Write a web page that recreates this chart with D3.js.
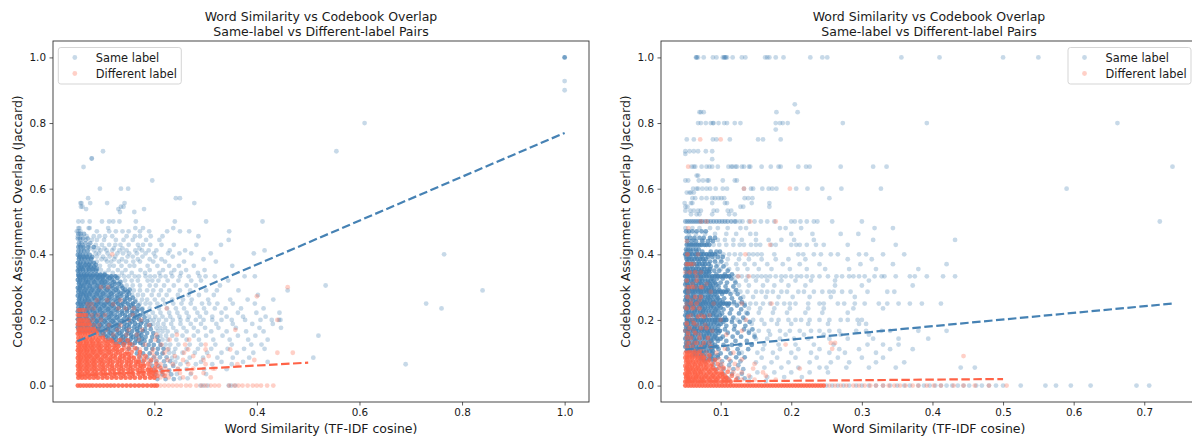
<!DOCTYPE html>
<html><head><meta charset="utf-8">
<script src="https://cdn.jsdelivr.net/npm/d3@7"></script>
<style>html,body{margin:0;background:#fff}svg{display:block}text{font-family:"DejaVu Sans",sans-serif;fill:#1a1a1a}</style>
</head><body><svg id="c" width="1192" height="436"></svg>
<script>
const titleLines=["Word Similarity vs Codebook Overlap","Same-label vs Different-label Pairs"];
const xLabel="Word Similarity (TF-IDF cosine)";
const yLabel="Codebook Assignment Overlap (Jaccard)";
const legendLabels=["Same label","Different label"];
const leftXTicks=[0.2,0.4,0.6,0.8,1.0];
const rightXTicks=[0.1,0.2,0.3,0.4,0.5,0.6,0.7];
const yTicks=[0,0.2,0.4,0.6,0.8,1.0];
const leftSameFit=[[0.05,0.135],[1.0,0.77]];
const leftDiffFit=[[0.05,0.03],[0.5,0.07]];
const rightSameFit=[[0.05,0.11],[0.74,0.25]];
const rightDiffFit=[[0.05,0.012],[0.5,0.02]];
// rows: [y*1000, overlapping pairs at each spot, x*1000 ...]
const leftSameCore=[
[410,3,52,57,63,70],[398,3,51,55,60,67,74],[386,4,53,58,64,71,77],[374,4,51,56,62,68,75,82],
[362,4,52,58,63,70,76,83],[350,4,51,55,61,67,73,80,87],[338,5,52,57,63,68,74,81,88,95,103],
[333,5,53,60,66,72,79,86,93,100,108,116,124],[322,4,51,56,61,67,73,80,87,94,101,109,118],
[310,4,53,58,64,70,77,84,91,98,106,114,123,131],[298,4,51,55,61,68,74,81,88,95,103,111,119,128,138],
[286,4,52,58,63,70,76,83,90,97,105,113,121,130,140,148],[274,4,51,56,62,67,73,80,87,94,102,110,118,127,136,146],
[262,4,53,59,65,71,78,85,92,99,107,115,123,132,142,152],[250,5,51,56,62,68,75,82,89,96,104,112,120,129,138,148,158],
[238,4,52,58,64,70,77,84,91,98,106,114,122,131,141,151,161],[226,4,51,55,61,67,74,81,88,95,103,111,119,128,137,147,157,166],
[214,4,53,59,65,72,79,86,93,100,108,116,124,133,143,153,163,172],[202,4,51,56,62,69,76,83,90,97,105,113,121,130,140,150,160,170],
[190,4,52,58,64,71,78,85,92,99,107,115,123,132,142,152,162,174],[178,4,51,57,63,70,77,84,91,98,106,114,122,131,141,151,161,172],
[166,4,53,60,67,74,81,88,95,103,111,119,128,137,147,157,167,178],[154,4,95,103,111,119,127,136,145,155,165,175],
[142,4,110,118,126,135,144,154,164,176],[130,4,125,133,142,152,162,173]];
const leftSameMid=[
[462,2,52,56,63],[448,2,51,55,61,70],[434,2,53,58,66,75],[422,3,52,56,62,71,82],
[392,3,54,62,69,79],[368,3,55,66,73,86],[356,3,54,60,72,80,88],[328,3,55,64,77,90,99,113,128],[316,3,54,66,71,83,97,104,121,134],[304,3,56,62,74,89,101,117,136],
[292,3,54,66,79,92,108,125,143,152],[280,3,57,65,74,88,100,116,134,151],[268,3,55,69,83,96,112,129,147,158],[256,3,54,64,73,91,109,126,143,163],[244,3,58,72,86,102,118,135,155,169],
[232,3,55,69,79,94,110,126,146,168,176],[220,3,57,70,84,99,116,138,158,178],[208,3,54,67,81,96,112,127,147,165,181],[196,3,59,74,88,103,119,137,156,177,186],
[184,3,55,68,82,95,111,128,147,168,184,192],[172,3,90,110,126,145,166,182,193],[160,3,100,115,132,150,171,186,198],[148,3,105,122,139,158,170,183,196,206],
[136,3,120,138,148,169,181,193,208],[124,3,140,157,178,189,199,212],[112,3,150,166,184,196,207,218],[98,3,166,178,191,205,216],[86,2,172,186,199,211,224],[74,2,178,193,204,219,231],[60,2,196,208,221,237],[46,2,200,214,229],[34,2,202,216,233],[20,2,206,222,238]];
const leftSameSparse=[
[1000,4,1000],[928,1,1000],[900,1,1000],[800,1,610],[714,1,555,100],[692,2,78],[666,1,62],[625,1,196],
[600,1,94,149,135],[571,1,71,250,242],[556,1,56,58,75,108,142,278],[545,1,57,60,140,135],[538,1,67,180,130],[529,1,133,161],
[500,1,74,98,112,120,132,164,240,301,411,60,52],[480,1,52,54,72,74,110,163,178,237],[470,1,49,52,56,88,112,125,138,150,172,190,225,250,268,346],
[455,1,51,58,68,82,93,104,118,146,162,172,193,216,286],[444,1,56,66,78,88,102,125,140,158,184,210,345],[429,1,54,60,72,86,98,112,124,134,150,168,178,192,214,238,282,330],
[418,1,63,75,91,103,121,138,171],[412,1,83,95,107,118,132,146,163,176,189,204,230,260,415],[403,1,86,92,109,128,139,151,166,183,199,227,249,272,310,394],[400,1,765],[393,1,88,100,113,124,148,158,177,202,236],[385,1,97,105,122,137,168,191,214,296],
[378,1,88,108,116,131,145,159,172,198,221,258,320],[365,1,94,113,121,136,152,161,187,206,229,248,277,352],[352,1,96,111,129,144,173,191,217,239,262,298],[343,1,104,119,137,156,182,210,233,252,285],
[333,1,131,141,150,162,170,183,192,201,212,222,235,250,267,288,300,318,376,396],[320,1,127,143,156,168,187,196,208,226,247,272,291,344],[305,1,146,158,172,191,203,219,238,263,281,328,534],
[290,1,160,172,186,198,213,229,250,270,301,322,364,460,840],[276,1,157,168,178,195,209,224,246,267,287,316,402],[262,1,163,176,186,201,217,235,256,273,305,348,382,432],
[250,1,172,183,192,206,221,237,253,271,293,307,323,353,396,730],[235,1,177,191,209,225,242,258,279,297,318,339,369,413,760],[222,1,184,197,212,229,245,263,284,301,331,363,399,444],
[210,1,190,202,216,231,249,267,289,313,341,373,417],[200,1,192,199,209,223,236,251,265,281,296,313,331,351,377,407,429,443,446],[188,1,198,207,218,233,251,271,291,321,353,391,431],
[176,1,204,212,221,237,257,277,299,325,359,405,447],[165,1,207,216,226,243,263,285,311,341,379,413],[152,1,212,223,235,255,277,301,333,363,397,520],
[140,1,216,226,243,263,287,315,347,383,421],[125,1,222,231,247,269,291,319,351,389,409],[112,1,228,241,263,285,311,343,375,415],[100,1,229,238,255,279,303,331,361,393],
[85,1,235,245,269,295,323,353,385,510],[72,1,241,263,291,331,373,421],[65,1,251,281,313,351,690],[50,1,246,263,297,341],[35,1,244,271,301],[22,1,250,265],[0,1,290,296,304,345,350,358]];
const leftDiffCore=[
[230,2,52,55,60,64],[215,3,51,54,58,63,67],[200,3,52,56,60,65,70],[186,4,51,55,60,64,69,74],[172,4,52,56,61,66,71,76,82],[158,5,51,55,60,65,70,76,82,88],
[145,5,52,57,62,68,74,80,86,93,100],[132,5,51,56,62,68,74,80,87,94,102,110,118],[120,6,52,58,64,70,76,83,90,97,105,113,122,130],
[108,6,51,57,63,69,75,82,89,96,104,112,120,128,137],[96,6,52,58,64,71,78,85,92,100,108,116,125,134,143,150],[84,6,51,57,63,70,77,84,91,99,107,115,124,133,142,151,160],
[72,6,52,58,65,72,79,86,94,102,110,119,128,137,146,155,164,170],[60,6,51,57,64,71,78,85,93,101,109,118,127,136,145,154,163,173,180],[48,6,52,59,66,73,80,88,96,104,113,122,131,140,149,158,167,177,187,194],
[36,6,51,58,65,72,80,88,96,105,114,123,132,141,150,159,169,179,189,198],[24,6,52,59,66,74,82,90,99,108,117,126,135,144,153,162,172,182,192,200],
[0,6,51,56,62,68,74,80,87,94,101,108,115,122,130,138,146,154,162,170,178,186,194,200,205]];
const leftDiffMid=[
[193,3,54,62,72],[165,3,54,64,73,85],[138,3,55,66,78,90,105,116,132,148],[126,3,55,67,80,92,109,126,140,152],[114,3,54,66,79,93,108,124,141,150,163],[102,3,55,68,81,95,112,129,147,156,172],
[90,3,54,67,74,88,104,120,138,155,170,183],[78,3,55,68,82,96,114,132,150,169,180,194],[66,3,54,69,82,98,114,132,150,168,178,188,204],[54,3,55,68,83,100,118,135,153,172,190,202,212],
[42,3,55,69,84,100,118,136,154,172,192,204,216],[30,3,55,70,86,103,121,139,157,177,195,206,220]];
const leftDiffSparse=[
[400,1,118],[300,1,96,110,460],[272,1,400],[260,1,88,108,134],[248,1,70,78,120],[235,1,72,82,130,144,160,224],[215,1,78,90,104,158],[200,1,80,96,150,174,440],[184,1,82,92,112,134,190],
[170,1,90,106,128,150,176,358],[155,1,100,120,146,166,204,244],[140,1,112,136,170,202,230,268],[125,1,146,158,182,214,260,300],[110,1,158,172,198,226,266,300,348],[100,1,172,196,220,258,440,470],
[90,1,176,200,240,276,306],[78,1,186,204,226,256,296,395],[65,1,192,212,236,266,300,362],[52,1,204,222,246,276,314,318],[38,1,212,226,250,272,296],[25,1,212,228,256,280,310],
[0,1,212,220,228,236,244,252,262,270,282,292,300,310,318,326,346,356,364,372,382,392,400,408,420,432]];
const rightSameCore=[
[500,2,50,53,56,59,62,65,68,71,74,78,82,86,90,94,98,102,106,110,115,120],
[429,4,52,55,58,61,64,67,70,73,77,80,84],[415,3,51,54,57,61,65,69],[400,5,50,53,56,60,64,68,72,76,80,84,88,92],[385,4,52,55,59,63,67,71,75,79],[370,4,51,54,58,62,66,70,74,78,83],
[355,4,50,53,57,61,65,69,73,77,81,85],[345,5,52,56,60,64,68,72,76,80,84],[333,6,50,53,56,60,64,68,72,76,80,84,88,92,96,100,104,108,112],[320,4,51,54,58,62,66,70,74,78,82,86,90],
[308,4,50,53,57,61,65,69,73,77,81,85,89,94],[296,4,52,55,59,63,67,71,75,79,83,87,91],[286,6,50,53,56,60,64,68,72,76,80,84,88,92,96,100,104,108],[272,4,51,54,58,62,66,70,74,78,82,86,90,95],
[260,4,50,53,57,61,65,69,73,77,81,85,89,94,99],[250,6,52,55,59,63,67,71,75,79,83,87,91,95,100,104,108,112],[238,4,50,54,58,62,66,70,74,78,82,86,90,95,100],[226,4,51,55,59,63,67,71,75,79,83,87,92,97],
[214,4,50,53,57,61,65,69,73,77,81,85,89,94,99],[200,6,52,56,60,64,68,72,76,80,84,88,92,96,100,104,108],[188,4,50,54,58,62,66,70,74,78,82,86,90,95,100],[176,4,51,55,59,63,67,71,75,79,83,87,92],
[167,5,50,53,57,61,65,69,73,77,81,85,89,94,99],[155,4,52,56,60,64,68,72,76,80,84,88,93],[143,4,50,54,58,62,66,70,74,78,82,86,90,95,100],[130,4,51,55,59,63,67,71,75,79,83,88],
[118,4,50,53,57,61,65,69,73,77,81,85,90,95],[105,4,52,56,60,64,68,72,76,80,84,89],[92,3,60,64,68,72,76,80,85,90,96],[80,3,72,76,80,84,88,92]];
const rightSameMid=[
[470,3,51,55,60,66,73,79],[450,3,52,57,63,70,76,85,92],[440,3,53,59,65,74,82,89],[408,3,52,58,66,74,86,94,99],[392,3,51,57,65,73,82,88,96,103],[378,3,53,60,69,77,85,92,101],
[363,3,52,59,67,76,86,94,104],[350,3,54,63,72,83,91,98,110],[339,3,52,60,70,79,94,106,116],[326,3,53,61,72,88,95,103,115],[314,3,52,60,71,83,92,100,109,121],[302,3,54,65,77,86,97,107,118],
[291,3,52,62,70,82,98,110,122],[279,3,53,61,72,84,92,102,114,124],[266,3,52,60,71,83,96,105,116,128],[254,3,54,66,77,90,103,119,130],[244,3,53,60,72,88,98,110,123,134],[232,3,52,64,76,93,104,115,129],
[220,3,54,61,73,90,102,113,126,138],[207,3,52,66,78,94,106,118,132],[194,3,53,60,74,92,104,116,127,141],[182,3,52,64,80,97,108,120,135],[171,3,54,62,75,96,106,119,133,145],[161,3,53,65,82,97,110,124,140],
[149,3,52,60,77,92,103,117,129,148],[136,3,53,64,86,96,108,121,137],[124,3,52,61,78,92,104,116,128,144],[111,3,54,66,87,97,110,124,139],[98,3,64,74,88,100,114,126],[86,3,72,86,96,108,122,134],[74,2,78,90,102,114,128],[62,2,90,100,112,125],[50,2,94,104,118,132],[36,2,104,116,130],[22,2,110,124,134]];
const rightSameSparse=[
[1000,2,66,105,107],[1000,1,65,68,76,89,94,103,109,117,130,135,163,166,169,178,189,227,244,251,356,410,500,550],[857,1,205],[833,1,70,72,76,179,209],
[800,1,68,72,79,86,89,90,97,105,109,120,128,178,184,188,195,273,392,662],[780,1,178],[750,1,52,62,89,94,113,153,160,185],[714,1,50,56,62,68,79,88],[706,1,50],[690,1,88],
[667,1,59,62,64,73,80,84,88,96,111,115,117,121,123,130,133,140,142,158,171,182,185,210,221,226,270,316,335,740],[640,1,66,68],[625,1,50,54,69,75,81,83,103,120,123],
[600,1,61,66,68,74,80,85,93,103,109,133,143,146,159,168,173,179,207,223,244,271,327,590],[588,1,52,56,58,62],[571,1,60,64,73,80,88,92,97,101,105,134,139,145,254],[556,1,49,58,60,88,106,109,144,169],[545,1,50,53,128,132,169],
[533,1,50,57,62,68,72,90,95,110,115],[522,1,58,66,70,88,112,120],[500,1,122,127,131,140,148,157,176,166,200,205,213,222,232,237,258,300,722],[480,1,50,60,70,85,96,110,128,136,184,192,214,318,344],
[462,1,55,65,78,92,108,122,142,150,200,230,270,295],[444,1,62,74,86,96,106,118,130,150,168,186,204,232,316,432],[429,1,90,98,108,118,127,133,143,150,156,172,178,200,207,212,222,235,246,280,348],
[400,1,98,104,112,120,128,140,146,152,158,176,210,217,232,242,256,266,296,306,330,360],[385,1,92,100,110,126,140,158,178,196,220,280,314],[370,1,96,108,122,134,148,166,188,212,240,298,344,420],
[355,1,100,112,124,138,154,172,198,222,248,282,320,380],[333,1,118,124,130,138,146,152,158,164,170,178,186,192,200,208,214,222,230,240,252,264,272,282,288,296,304,318,328,332,348,368,375,392,415,432],
[320,1,120,136,150,166,186,206,228,262,310],[305,1,126,140,160,176,196,220,262,300,372],[286,1,112,120,128,138,150,158,166,174,186,194,210,218,232,244,254,260,272,284,308,336,346],
[270,1,132,146,164,182,202,226,256,290],[250,1,118,126,134,142,150,160,170,180,190,198,206,224,240,246,266,275,290,304,324,336,352,368,385,412],[235,1,140,156,176,198,224,246,288,330],[222,1,136,154,174,194,220,244,280],
[200,1,116,124,134,146,158,172,182,196,206,214,226,240,254,270,280,294,300],[188,1,144,162,180,200,224,252,296,306],[167,1,140,154,168,184,198,212,228,240,254,268,292,306,328,340,380,420],
[155,1,148,170,192,218,246,270,310],[143,1,150,166,184,204,224,254,280,316,352,394],[125,1,144,162,182,206,232,260,308,330,352],[111,1,160,184,210,240,268,296,340,372],
[100,1,130,152,174,200,228,254,276,320],[85,1,158,180,206,236,266,300,330],[71,1,150,172,196,226,256,282,320,360],[55,1,162,186,210,240,250,278,310,348,440,460],[40,1,152,176,200,226,252],[26,1,142,166,190,215],[14,1,140,164],
[0,1,250,258,266,274,282,292,300,310,320,330,340,350,360,368,380,388,396,404,412,420,428,436,444,452,462,470,480,490,500,525,560,575,596,624,689,707]];
const rightDiffCore=[
[98,2,50,53,57,61,66,70],[85,4,50,53,56,60,64,68,72,77],[72,4,51,54,57,61,65,69,73,77,82],[60,4,50,53,56,60,64,68,72,76,81,86],[48,5,51,54,57,61,65,69,73,77,82,87,92],
[36,5,50,53,56,60,64,68,72,76,81,86,91,96,102],[24,6,51,54,57,61,65,69,73,77,82,87,92,97,103,108],[12,6,50,53,56,60,64,68,72,76,81,86,91,96,102,108,114],
[0,6,50,54,58,62,66,70,74,78,82,86,90,94,98,102,106,110,114,118,122,126,130,134,138,142,146,150,154,158,162,166,170,174,178,182,186,190,194,198,202,206,210,214,218,222,226,230,234,238,242,246]];
const rightDiffMid=[
[104,3,52,56,63,70],[92,3,52,55,59,66,74,84],[78,3,52,59,67,75,84,92],[66,3,55,63,71,79,88,96],[54,3,52,59,67,79,89,98,104],[42,3,55,63,71,84,94,101,110],[30,3,52,66,79,89,99,106,116],[18,3,55,63,74,84,94,105,112,122],
[400,2,53],[370,2,52,58],[345,2,56,64],[320,2,52,66],[300,2,55,60,72],[270,2,53,64,72],[250,2,58,66],[235,2,52,60,70],[210,2,54,68,76],[190,2,52,62],[175,2,56,72,80],[160,2,54,64],[145,2,52,58,70,82],[130,2,55,66,76],[118,2,52,60,72,86]];
const rightDiffSparse=[
[750,1,71,100],[667,1,54],[600,1,133,198],[500,1,72,80,142,178],[480,1,54],[440,1,52],[429,1,170],[400,1,68,135],[370,1,54,62],[345,1,50,72],[333,1,66,125,140],[310,1,60,80],[300,1,52,64,74],
[286,1,54,86],[260,1,58,70],[250,1,52,90,130,172],[238,1,50,62],[214,1,58,72,84],[200,1,60,100,136],[185,1,52,66,78],[167,1,50,62,88,130],[155,1,54,70,108],[130,1,52,62,84,256,262],
[125,1,192],[112,1,56,74,106,258],[100,1,60,80,118,94],[90,1,444],[80,1,98,112,130],[66,1,102,120,148],[52,1,112,124,146,212],[40,1,118,130,160],[30,1,124,140,164],[18,1,130,148,178],
[0,1,254,262,270,278,288,296,304,312,320,330,338,346,354,362,372,380,392,402,412,430,444,460,480,505]];

function pts(rows){return rows.flatMap(r=>r.slice(2).map(x=>({x:x/1000,y:r[0]/1000,n:r[1]})));}
const BLUE="#4682b4",RED="#ff6347",INK="#333";
const svg=d3.select("#c");
function panel(o){
  const x=d3.scaleLinear().domain(o.xDom).range([o.l,o.r]);
  const y=d3.scaleLinear().domain([-0.05,1.05]).range([402,41]);
  const g=svg.append("g");
  const draw=(rows,col)=>g.append("g").selectAll("circle").data(pts(rows)).join("circle")
    .attr("cx",d=>x(d.x)).attr("cy",d=>y(d.y)).attr("r",2.4).attr("fill",col)
    .attr("fill-opacity",d=>1-Math.pow(0.7,d.n));
  draw(o.sameSparse,BLUE);draw(o.sameMid,BLUE);draw(o.sameCore,BLUE);draw(o.diffSparse,RED);draw(o.diffMid,RED);draw(o.diffCore,RED);
  const line=d3.line().x(d=>x(d[0])).y(d=>y(d[1]));
  [[o.sameFit,BLUE],[o.diffFit,RED]].forEach(([f,c])=>g.append("path").attr("d",line(f)).attr("fill","none")
    .attr("stroke",c).attr("stroke-width",2.2).attr("stroke-dasharray","8.5,3.5"));
  const ax=g.append("g").attr("transform","translate(0,402)").call(d3.axisBottom(x).tickValues(o.xTicks).tickFormat(d3.format(".1f")).tickSize(3.5).tickPadding(3.5).tickSizeOuter(0));
  const ay=g.append("g").attr("transform",`translate(${o.l},0)`).call(d3.axisLeft(y).tickValues(yTicks).tickFormat(d3.format(".1f")).tickSize(3.5).tickPadding(3.5).tickSizeOuter(0));
  [ax,ay].forEach(a=>{a.selectAll("text").attr("font-size",10.4).style("font-family",'"DejaVu Sans"');a.selectAll("line").attr("stroke",INK).attr("stroke-width",.8);a.select(".domain").attr("stroke","none");});
  g.append("rect").attr("x",o.l).attr("y",41).attr("width",o.r-o.l).attr("height",361).attr("fill","none").attr("stroke",INK).attr("stroke-width",.9);
  const cx=(o.l+o.r)/2;
  titleLines.forEach((t,i)=>g.append("text").attr("x",cx).attr("y",21+i*14.6).attr("text-anchor","middle").attr("font-size",12.5).text(t));
  g.append("text").attr("x",cx).attr("y",433).attr("text-anchor","middle").attr("font-size",12.5).text(xLabel);
  g.append("text").attr("transform",`translate(${o.l-31.5},${(41+402)/2}) rotate(-90)`).attr("text-anchor","middle").attr("font-size",12.5).text(yLabel);
  const lg=g.append("g").attr("transform",`translate(${o.lx},47.5)`);
  lg.append("rect").attr("width",123).attr("height",36.5).attr("rx",2.5).attr("fill","#fff").attr("fill-opacity",.8).attr("stroke","#d0d0d0").attr("stroke-width",.9);
  legendLabels.forEach((t,i)=>{
    lg.append("circle").attr("cx",16.5).attr("cy",10+i*16).attr("r",2.4).attr("fill",i?RED:BLUE).attr("fill-opacity",.3);
    lg.append("text").attr("x",37.5).attr("y",14+i*16).attr("font-size",11.4).text(t);
  });
}
panel({l:53,r:589,xDom:[0.0025,1.0475],xTicks:leftXTicks,sameCore:leftSameCore,sameMid:leftSameMid,sameSparse:leftSameSparse,diffCore:leftDiffCore,diffMid:leftDiffMid,diffSparse:leftDiffSparse,sameFit:leftSameFit,diffFit:leftDiffFit,lx:58.3});
panel({l:661,r:1197,xDom:[0.0155,0.7747],xTicks:rightXTicks,sameCore:rightSameCore,sameMid:rightSameMid,sameSparse:rightSameSparse,diffCore:rightDiffCore,diffMid:rightDiffMid,diffSparse:rightDiffSparse,sameFit:rightSameFit,diffFit:rightDiffFit,lx:1068});
</script></body></html>
